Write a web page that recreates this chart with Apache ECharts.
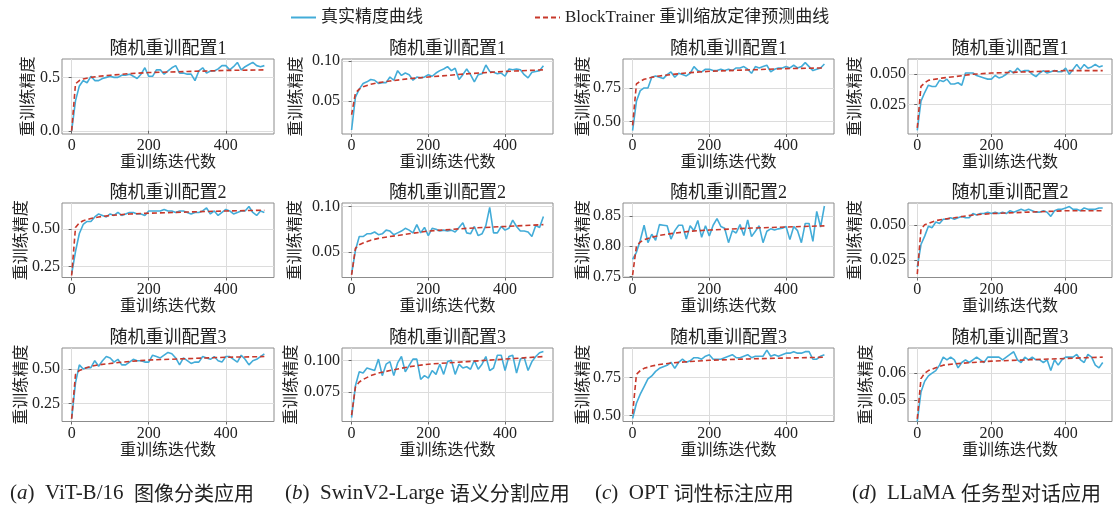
<!DOCTYPE html>
<html><head><meta charset="utf-8">
<script src="https://cdn.jsdelivr.net/npm/echarts@6/dist/echarts.min.js"></script>
<style>html,body{margin:0;padding:0;background:#fff}#c{width:1113px;height:505px}</style>
</head><body><div id="c"></div>
<script>
// ---------------- data ----------------
const ITERS = [0,10,20,30,40,50,60,70,80,90,100,110,120,130,140,150,160,170,180,190,200,210,220,230,240,250,260,270,280,290,300,310,320,330,340,350,360,370,380,390,400,410,420,430,440,450,460,470,480,490,500];
const PRED_ITERS = [0,10,20,30,50,70,100,150,200,300,400,500];
const X_TICKS = [0,200,400];
const X_TICK_LABELS = ['0','200','400'];
const X_NAME = '重训练迭代数';
const Y_NAME = '重训练精度';
const PANEL_TITLES = ['随机重训配置1','随机重训配置2','随机重训配置3'];
const LEGEND_NAMES = ['真实精度曲线','BlockTrainer 重训缩放定律预测曲线'];

// (a) ViT-B/16
const REAL_A1 = [0.00,0.28,0.42,0.47,0.45,0.51,0.47,0.47,0.49,0.50,
 0.51,0.50,0.50,0.52,0.52,0.53,0.51,0.49,0.53,0.59,
 0.51,0.51,0.57,0.57,0.53,0.56,0.59,0.61,0.54,0.54,
 0.53,0.53,0.47,0.56,0.59,0.54,0.56,0.56,0.58,0.61,
 0.61,0.57,0.60,0.64,0.57,0.60,0.62,0.64,0.61,0.60,
 0.61];
const PRED_A1 = [0.00,0.44,0.47,0.485,0.50,0.51,0.52,0.535,0.545,0.555,0.565,0.57];
const REAL_A2 = [0.20,0.35,0.47,0.53,0.55,0.55,0.58,0.60,0.59,0.58,
 0.60,0.59,0.61,0.59,0.60,0.61,0.61,0.60,0.60,0.59,
 0.62,0.62,0.62,0.62,0.63,0.62,0.62,0.61,0.62,0.62,
 0.61,0.60,0.61,0.61,0.62,0.64,0.60,0.62,0.59,0.61,
 0.63,0.62,0.60,0.61,0.62,0.62,0.65,0.61,0.59,0.62,
 0.61];
const PRED_A2 = [0.19,0.51,0.54,0.555,0.57,0.58,0.59,0.60,0.605,0.613,0.62,0.625];
const REAL_A3 = [0.14,0.40,0.53,0.50,0.51,0.51,0.56,0.52,0.56,0.59,
 0.58,0.55,0.57,0.53,0.53,0.55,0.57,0.56,0.56,0.55,
 0.55,0.60,0.59,0.58,0.60,0.62,0.61,0.58,0.53,0.58,
 0.56,0.54,0.55,0.55,0.59,0.58,0.57,0.59,0.56,0.55,
 0.59,0.59,0.57,0.55,0.60,0.57,0.53,0.56,0.57,0.59,
 0.61];
const PRED_A3 = [0.14,0.46,0.49,0.50,0.52,0.53,0.54,0.555,0.565,0.575,0.585,0.59];

// (b) SwinV2-Large
const REAL_B1 = [0.014,0.055,0.065,0.072,0.074,0.077,0.076,0.072,0.073,0.073,
 0.080,0.076,0.088,0.082,0.085,0.083,0.076,0.080,0.079,0.080,
 0.083,0.081,0.085,0.088,0.090,0.093,0.088,0.091,0.077,0.083,
 0.090,0.083,0.074,0.083,0.084,0.095,0.087,0.086,0.084,0.085,
 0.081,0.090,0.089,0.090,0.089,0.083,0.079,0.086,0.087,0.088,
 0.094];
const PRED_B1 = [0.033,0.060,0.065,0.068,0.071,0.073,0.075,0.078,0.080,0.084,0.087,0.089];
const REAL_B2 = [0.026,0.052,0.067,0.067,0.070,0.070,0.072,0.069,0.070,0.074,
 0.073,0.069,0.071,0.073,0.076,0.074,0.071,0.080,0.071,0.077,
 0.068,0.076,0.075,0.073,0.074,0.073,0.074,0.072,0.077,0.082,
 0.071,0.070,0.078,0.068,0.070,0.079,0.099,0.071,0.071,0.078,
 0.074,0.076,0.085,0.078,0.073,0.073,0.072,0.067,0.079,0.077,
 0.089];
const PRED_B2 = [0.025,0.054,0.058,0.060,0.063,0.065,0.067,0.070,0.073,0.076,0.078,0.080];
const REAL_B3 = [0.055,0.080,0.091,0.090,0.094,0.093,0.092,0.101,0.088,0.097,
 0.099,0.088,0.098,0.103,0.091,0.096,0.101,0.101,0.085,0.088,
 0.086,0.092,0.089,0.097,0.089,0.099,0.100,0.089,0.097,0.094,
 0.095,0.093,0.100,0.093,0.097,0.103,0.092,0.094,0.104,0.104,
 0.092,0.103,0.104,0.090,0.101,0.102,0.092,0.099,0.103,0.106,
 0.107];
const PRED_B3 = [0.057,0.079,0.083,0.085,0.088,0.090,0.092,0.095,0.097,0.099,0.101,0.103];

// (c) OPT
const REAL_C1 = [0.43,0.65,0.73,0.75,0.75,0.83,0.84,0.83,0.82,0.85,
 0.87,0.83,0.86,0.85,0.84,0.86,0.91,0.88,0.87,0.89,
 0.89,0.88,0.88,0.89,0.88,0.89,0.88,0.90,0.90,0.91,
 0.89,0.86,0.91,0.90,0.91,0.92,0.87,0.89,0.90,0.90,
 0.91,0.90,0.92,0.90,0.91,0.94,0.91,0.88,0.89,0.90,
 0.93];
const PRED_C1 = [0.47,0.78,0.80,0.815,0.83,0.84,0.85,0.865,0.875,0.885,0.895,0.90];
const REAL_C2 = [0.778,0.790,0.810,0.835,0.806,0.820,0.810,0.836,0.835,0.834,
 0.812,0.826,0.835,0.835,0.812,0.834,0.826,0.843,0.815,0.834,
 0.817,0.835,0.846,0.833,0.830,0.806,0.826,0.822,0.836,0.818,
 0.844,0.816,0.825,0.834,0.806,0.825,0.829,0.827,0.829,0.830,
 0.833,0.811,0.833,0.826,0.806,0.838,0.838,0.808,0.858,0.832,
 0.867];
const PRED_C2 = [0.752,0.800,0.807,0.811,0.815,0.818,0.821,0.825,0.827,0.830,0.832,0.834];
const REAL_C3 = [0.48,0.58,0.64,0.69,0.74,0.76,0.79,0.81,0.82,0.83,
 0.85,0.81,0.85,0.87,0.85,0.86,0.88,0.88,0.87,0.89,
 0.90,0.87,0.87,0.87,0.88,0.89,0.90,0.88,0.88,0.89,
 0.90,0.88,0.89,0.89,0.89,0.93,0.89,0.90,0.89,0.90,
 0.91,0.91,0.92,0.91,0.91,0.92,0.92,0.87,0.87,0.89,
 0.90];
const PRED_C3 = [0.51,0.77,0.795,0.81,0.825,0.835,0.845,0.855,0.863,0.872,0.878,0.883];

// (d) LLaMA
const REAL_D1 = [0.004,0.028,0.035,0.041,0.040,0.040,0.045,0.044,0.046,0.042,
 0.042,0.043,0.041,0.051,0.051,0.051,0.049,0.048,0.047,0.046,
 0.046,0.049,0.047,0.048,0.050,0.053,0.051,0.055,0.052,0.053,
 0.053,0.050,0.048,0.051,0.053,0.051,0.052,0.053,0.052,0.052,
 0.055,0.050,0.054,0.058,0.054,0.058,0.055,0.056,0.058,0.056,
 0.057];
const PRED_D1 = [0.006,0.040,0.043,0.045,0.046,0.047,0.048,0.050,0.051,0.052,0.053,0.053];
const REAL_D2 = [0.020,0.036,0.042,0.049,0.048,0.052,0.051,0.054,0.054,0.055,
 0.054,0.055,0.056,0.055,0.055,0.058,0.057,0.058,0.058,0.059,
 0.058,0.059,0.058,0.059,0.058,0.060,0.059,0.060,0.061,0.060,
 0.061,0.060,0.059,0.059,0.060,0.059,0.056,0.060,0.061,0.061,
 0.062,0.063,0.061,0.061,0.060,0.062,0.061,0.061,0.061,0.062,
 0.062];
const PRED_D2 = [0.015,0.047,0.050,0.051,0.053,0.054,0.055,0.057,0.058,0.059,0.060,0.060];
const REAL_D3 = [0.042,0.053,0.057,0.059,0.060,0.061,0.063,0.066,0.065,0.066,
 0.065,0.062,0.064,0.065,0.064,0.065,0.066,0.065,0.064,0.066,
 0.066,0.066,0.066,0.065,0.066,0.067,0.068,0.065,0.064,0.066,
 0.065,0.066,0.065,0.065,0.064,0.065,0.061,0.065,0.063,0.065,
 0.066,0.066,0.066,0.067,0.065,0.064,0.067,0.066,0.063,0.062,
 0.064];
const PRED_D3 = [0.043,0.058,0.060,0.061,0.062,0.063,0.0635,0.064,0.0645,0.065,0.0655,0.066];

// y-axis limits, tick values and tick labels per panel
const Y_RANGE_A1 = [-0.03, 0.672];  const Y_TICKS_A1 = [0, 0.5];        const Y_LABELS_A1 = ['0.0','0.5'];
const Y_RANGE_A2 = [0.177, 0.673];  const Y_TICKS_A2 = [0.25, 0.5];     const Y_LABELS_A2 = ['0.25','0.50'];
const Y_RANGE_A3 = [0.12, 0.652];   const Y_TICKS_A3 = [0.25, 0.5];     const Y_LABELS_A3 = ['0.25','0.50'];
const Y_RANGE_B1 = [0.009, 0.1025]; const Y_TICKS_B1 = [0.05, 0.10];    const Y_LABELS_B1 = ['0.05','0.10'];
const Y_RANGE_B2 = [0.0222, 0.1037];const Y_TICKS_B2 = [0.05, 0.10];    const Y_LABELS_B2 = ['0.05','0.10'];
const Y_RANGE_B3 = [0.052, 0.1097]; const Y_TICKS_B3 = [0.075, 0.100];  const Y_LABELS_B3 = ['0.075','0.100'];
const Y_RANGE_C1 = [0.405, 0.967];  const Y_TICKS_C1 = [0.5, 0.75];     const Y_LABELS_C1 = ['0.50','0.75'];
const Y_RANGE_C2 = [0.748, 0.872];  const Y_TICKS_C2 = [0.75, 0.80, 0.85]; const Y_LABELS_C2 = ['0.75','0.80','0.85'];
const Y_RANGE_C3 = [0.46, 0.944];   const Y_TICKS_C3 = [0.5, 0.75];     const Y_LABELS_C3 = ['0.50','0.75'];
const Y_RANGE_D1 = [0.001, 0.0625]; const Y_TICKS_D1 = [0.025, 0.050];  const Y_LABELS_D1 = ['0.025','0.050'];
const Y_RANGE_D2 = [0.0126, 0.0655];const Y_TICKS_D2 = [0.025, 0.050];  const Y_LABELS_D2 = ['0.025','0.050'];
const Y_RANGE_D3 = [0.042, 0.0694]; const Y_TICKS_D3 = [0.05, 0.06];    const Y_LABELS_D3 = ['0.05','0.06'];

// ---------------- layout / style ----------------
const FONT = "'Liberation Serif', 'Noto Sans CJK SC', serif";
const BLUE = '#43ACD8';
const RED = '#C8382B';
const TEXT = '#222';
const COLS = [{left:62,width:212},{left:342,width:211},{left:623,width:211},{left:908,width:204}];
const ROWS = [{top:59,height:75},{top:203,height:74.5},{top:348,height:73.5}];

const PANELS = [
 {row:0,col:0,real:REAL_A1,pred:PRED_A1,range:Y_RANGE_A1,ticks:Y_TICKS_A1,labels:Y_LABELS_A1,nameGap:25},
 {row:0,col:1,real:REAL_B1,pred:PRED_B1,range:Y_RANGE_B1,ticks:Y_TICKS_B1,labels:Y_LABELS_B1,nameGap:37},
 {row:0,col:2,real:REAL_C1,pred:PRED_C1,range:Y_RANGE_C1,ticks:Y_TICKS_C1,labels:Y_LABELS_C1,nameGap:31},
 {row:0,col:3,real:REAL_D1,pred:PRED_D1,range:Y_RANGE_D1,ticks:Y_TICKS_D1,labels:Y_LABELS_D1,nameGap:44},
 {row:1,col:0,real:REAL_A2,pred:PRED_A2,range:Y_RANGE_A2,ticks:Y_TICKS_A2,labels:Y_LABELS_A2,nameGap:32},
 {row:1,col:1,real:REAL_B2,pred:PRED_B2,range:Y_RANGE_B2,ticks:Y_TICKS_B2,labels:Y_LABELS_B2,nameGap:38},
 {row:1,col:2,real:REAL_C2,pred:PRED_C2,range:Y_RANGE_C2,ticks:Y_TICKS_C2,labels:Y_LABELS_C2,nameGap:31},
 {row:1,col:3,real:REAL_D2,pred:PRED_D2,range:Y_RANGE_D2,ticks:Y_TICKS_D2,labels:Y_LABELS_D2,nameGap:44},
 {row:2,col:0,real:REAL_A3,pred:PRED_A3,range:Y_RANGE_A3,ticks:Y_TICKS_A3,labels:Y_LABELS_A3,nameGap:32},
 {row:2,col:1,real:REAL_B3,pred:PRED_B3,range:Y_RANGE_B3,ticks:Y_TICKS_B3,labels:Y_LABELS_B3,nameGap:42},
 {row:2,col:2,real:REAL_C3,pred:PRED_C3,range:Y_RANGE_C3,ticks:Y_TICKS_C3,labels:Y_LABELS_C3,nameGap:31},
 {row:2,col:3,real:REAL_D3,pred:PRED_D3,range:Y_RANGE_D3,ticks:Y_TICKS_D3,labels:Y_LABELS_D3,nameGap:33}
];

const grids = [], xAxes = [], yAxes = [], series = [], titles = [];
PANELS.forEach((p, i) => {
  const c = COLS[p.col], r = ROWS[p.row];
  grids.push({left:c.left, top:r.top, width:c.width, height:r.height, show:true,
    borderColor:'#8c8c8c', borderWidth:1, backgroundColor:'transparent',
    containLabel:false, outerBoundsMode:'none'});
  xAxes.push({type:'value', gridIndex:i, min:-25, max:525,
    name:X_NAME, nameLocation:'middle', nameGap:21, nameMoveOverlap:false,
    nameTextStyle:{fontFamily:FONT, fontSize:16, color:TEXT},
    axisLine:{show:false},
    axisTick:{show:true, length:3, lineStyle:{color:'#666'}, customValues:X_TICKS},
    axisLabel:{show:true, customValues:X_TICKS, margin:4, fontFamily:FONT, fontSize:16, color:TEXT,
      formatter: v => { const k = X_TICKS.indexOf(v); return k >= 0 ? X_TICK_LABELS[k] : ''; }},
    splitLine:{show:true, lineStyle:{color:'#dcdcdc', width:1}}
  });
  yAxes.push({type:'value', gridIndex:i, min:p.range[0], max:p.range[1],
    name:Y_NAME, nameLocation:'middle', nameRotate:90, nameGap:p.nameGap, nameMoveOverlap:false,
    nameTextStyle:{fontFamily:FONT, fontSize:16, color:TEXT},
    axisLine:{show:false},
    axisTick:{show:true, length:3, lineStyle:{color:'#666'}, customValues:p.ticks},
    axisLabel:{show:true, customValues:p.ticks, margin:2, fontFamily:FONT, fontSize:16, color:TEXT,
      formatter: v => { let best = -1, bd = Infinity; p.ticks.forEach((t,k)=>{ const d = Math.abs(t - v); if (d < bd) { bd = d; best = k; } }); return bd < 1e-6 ? p.labels[best] : ''; }},
    splitLine:{show:true, lineStyle:{color:'#dcdcdc', width:1}}
  });
  titles.push({text:PANEL_TITLES[p.row], left:c.left + c.width/2, top:r.top - 10,
    textAlign:'center', textVerticalAlign:'middle', padding:0,
    textStyle:{fontFamily:FONT, fontSize:18, fontWeight:'normal', color:TEXT}});
  series.push({type:'line', name:LEGEND_NAMES[0], xAxisIndex:i, yAxisIndex:i,
    data: ITERS.map((x,j)=>[x, p.real[j]]), showSymbol:false, symbol:'none',
    lineStyle:{color:BLUE, width:1.6}, itemStyle:{color:BLUE}, z:2, silent:true});
  series.push({type:'line', name:LEGEND_NAMES[1], xAxisIndex:i, yAxisIndex:i,
    data: PRED_ITERS.map((x,j)=>[x, p.pred[j]]), showSymbol:false, symbol:'none',
    lineStyle:{color:RED, width:1.6, type:[5,3]}, itemStyle:{color:RED}, z:3, silent:true});
});

const CAPTIONS = [
  {x:10,  parts:'{p|(}{i|a}{p|)  ViT-B/16  }{c|图像分类应用}'},
  {x:285, parts:'{p|(}{i|b}{p|)  SwinV2-Large }{c|语义分割应用}'},
  {x:595, parts:'{p|(}{i|c}{p|)  OPT }{c|词性标注应用}'},
  {x:852, parts:'{p|(}{i|d}{p|)  LLaMA }{c|任务型对话应用}'}
];
const capRich = {
  p:{fontFamily:"'Liberation Serif', serif", fontSize:21, fill:TEXT},
  i:{fontFamily:"'Liberation Serif', serif", fontSize:21, fontStyle:'italic', fill:TEXT},
  c:{fontFamily:"'Noto Sans CJK SC', sans-serif", fontSize:20, fill:TEXT}
};
const graphics = CAPTIONS.map(cp => ({type:'text', x:cp.x, y:493, silent:true,
  style:{text:cp.parts, rich:capRich, verticalAlign:'middle', align:'left', fill:TEXT}}));

const chart = echarts.init(document.getElementById('c'), null, {renderer:'canvas'});
chart.setOption({
  animation:false,
  backgroundColor:'#fff',
  title:titles,
  legend:{top:9, left:290, padding:0, itemWidth:25, itemHeight:14, itemGap:111,
    itemStyle:{opacity:0},
    textStyle:{fontFamily:FONT, fontSize:17, color:TEXT},
    data:LEGEND_NAMES},
  grid:grids, xAxis:xAxes, yAxis:yAxes, series:series, graphic:graphics
});
</script></body></html>
